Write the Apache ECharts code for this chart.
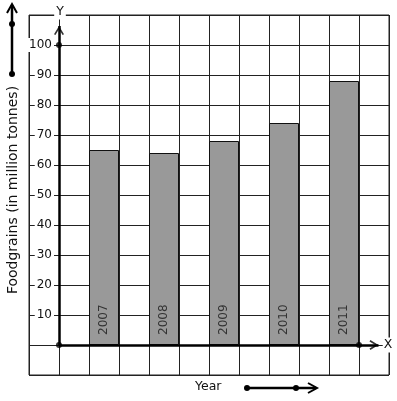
<!DOCTYPE html>
<html>
<head>
<meta charset="utf-8">
<script src="https://cdn.jsdelivr.net/npm/echarts@6/dist/echarts.min.js"></script>
<style>
html,body{margin:0;padding:0;background:#fff}
#main{width:397px;height:401px}
</style>
</head>
<body>
<div id="main"></div>
<script>
// data
var years = ['2007', '2008', '2009', '2010', '2011'];
var foodgrains = [65, 64, 68, 74, 88];
var yTickLabels = [10, 20, 30, 40, 50, 60, 70, 80, 90, 100];
var axisDots = [[0, 0], [0, 100], [10, 0]];
var xArrowTip = 10.65, yArrowTip = 106.3;

var font = 'DejaVu Sans';
var chevron = 'path://M5,0 L10,9 L8.6,10 L5,3.6 L1.4,10 L0,9 Z';

// bars sit on every other grid column
var barData = foodgrains.map(function (v, i) { return [1.5 + 2 * i, v]; });

var myChart = echarts.init(document.getElementById('main'));
var option = {
    animation: false,
    backgroundColor: '#fff',
    grid: {
        left: 29, right: 8, top: 15, bottom: 26,
        show: true, borderColor: '#222', borderWidth: 1, backgroundColor: '#fff'
    },
    xAxis: {
        type: 'value', min: -1, max: 11, interval: 1,
        axisLine: {show: false}, axisTick: {show: false}, axisLabel: {show: false},
        splitLine: {show: true, lineStyle: {color: '#222', width: 1}}
    },
    yAxis: [
        {
            type: 'value', min: -10, max: 110, interval: 10,
            axisLine: {show: false}, axisTick: {show: false}, axisLabel: {show: false},
            splitLine: {show: true, lineStyle: {color: '#222', width: 1}}
        },
        {
            type: 'value', min: -10, max: 110, interval: 10,
            position: 'left', offset: -30, z: 3,
            axisLine: {show: false}, axisTick: {show: false}, splitLine: {show: false},
            axisLabel: {
                margin: 5,
                formatter: function (v) {
                    return yTickLabels.indexOf(v) >= 0 ? '{w|' + v + '}' : '';
                },
                rich: {
                    w: {backgroundColor: '#fff', padding: [1, 2], fontFamily: font, fontSize: 12, color: '#111'}
                }
            }
        }
    ],
    series: [
        {
            type: 'bar',
            data: barData,
            barWidth: 30,
            itemStyle: {color: '#999999', borderColor: '#111', borderWidth: 1},
            label: {
                show: true, position: 'insideBottom', distance: 10, rotate: 90,
                align: 'left', verticalAlign: 'middle',
                formatter: function (p) { return years[p.dataIndex]; },
                fontFamily: font, fontSize: 12, color: '#333'
            },
            markLine: {
                silent: true,
                symbol: ['none', 'none'],
                label: {show: false},
                lineStyle: {color: '#000', width: 2.5, type: 'solid'},
                data: [
                    [{coord: [0, 0]}, {coord: [xArrowTip, 0]}],
                    [{coord: [0, 0]}, {coord: [0, yArrowTip]}]
                ]
            }
        },
        {
            type: 'scatter', data: axisDots, symbolSize: 6, z: 4, silent: true,
            itemStyle: {color: '#000'}
        },
        {
            type: 'scatter', symbol: chevron, symbolSize: [10, 9], z: 4, silent: true,
            itemStyle: {color: '#000'},
            data: [
                {value: [xArrowTip, 0], symbolRotate: -90, symbolOffset: [-4.5, 0]},
                {value: [0, yArrowTip], symbolOffset: [0, 4.5]}
            ]
        }
    ],
    graphic: [
        {type: 'text', x: 13, y: 190, rotation: Math.PI / 2,
            style: {text: 'Foodgrains (in million tonnes)', font: '14px "DejaVu Sans"', fill: '#111', align: 'center', verticalAlign: 'middle'}},
        {type: 'text', x: 195, y: 387,
            style: {text: 'Year', font: '12.5px "DejaVu Sans"', fill: '#111', align: 'left', verticalAlign: 'middle'}},
        {type: 'text', x: 388, y: 345, z: 10,
            style: {text: 'X', font: '12.5px "DejaVu Sans"', fill: '#111', align: 'center', verticalAlign: 'middle', backgroundColor: '#fff', padding: [1, 1]}},
        {type: 'text', x: 60, y: 12, z: 10,
            style: {text: 'Y', font: '12.5px "DejaVu Sans"', fill: '#111', align: 'center', verticalAlign: 'middle', backgroundColor: '#fff', padding: [1, 2]}},
        // arrow up at top left
        {type: 'line', shape: {x1: 12, y1: 74, x2: 12, y2: 5}, style: {stroke: '#000', lineWidth: 2.5}},
        {type: 'polyline', shape: {points: [[7, 13], [12, 4], [17, 13]]}, style: {stroke: '#000', lineWidth: 2, fill: null}},
        {type: 'circle', shape: {cx: 12, cy: 24, r: 3}, style: {fill: '#000'}},
        {type: 'circle', shape: {cx: 12, cy: 74, r: 3}, style: {fill: '#000'}},
        // arrow right at the bottom
        {type: 'line', shape: {x1: 247, y1: 388, x2: 316, y2: 388}, style: {stroke: '#000', lineWidth: 2.5}},
        {type: 'polyline', shape: {points: [[308, 383], [317, 388], [308, 393]]}, style: {stroke: '#000', lineWidth: 2, fill: null}},
        {type: 'circle', shape: {cx: 247, cy: 388, r: 3}, style: {fill: '#000'}},
        {type: 'circle', shape: {cx: 296, cy: 388, r: 3}, style: {fill: '#000'}}
    ]
};
myChart.setOption(option);
</script>
</body>
</html>
